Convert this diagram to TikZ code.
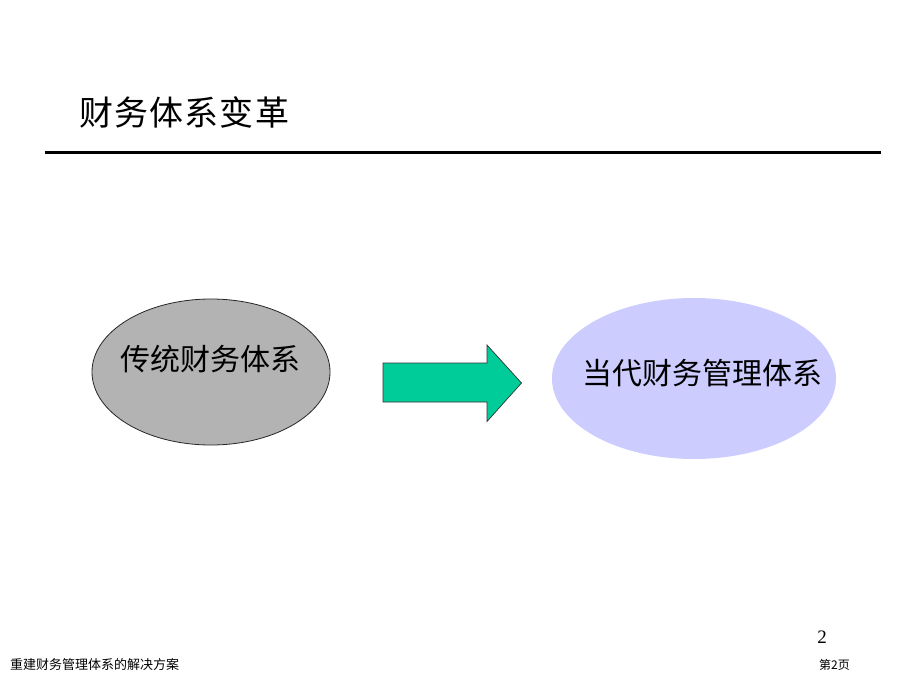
\documentclass[tikz,border=0pt]{standalone}
\usepackage{fontspec}
\newfontfamily\cjk{Noto Sans CJK SC}
\newfontfamily\serifnum{Liberation Serif}
\usetikzlibrary{shapes.geometric}
\definecolor{grayfill}{HTML}{B3B3B3}
\definecolor{lavender}{HTML}{CCCCFF}
\definecolor{arrowgreen}{HTML}{00CC99}
\tikzset{
  ovaltext/.style={font=\cjk\fontsize{30}{32}\selectfont, text=black},
}
\newcommand{\tsp}{\hspace{1.2pt}}
\begin{document}
\begin{tikzpicture}[x=1pt,y=-1pt]
\useasboundingbox (0,0) rectangle (920,690);
\fill[white] (0,0) rectangle (920,690);
% title
\node[font=\cjk\fontsize{34}{36}\selectfont, anchor=west, inner sep=0pt] (title) at (79,112) {财\tsp 务\tsp 体\tsp 系\tsp 变\tsp 革};
\coordinate (ruleL) at (45,152);
\coordinate (ruleR) at (881,152);
\draw[line width=3pt] (ruleL) -- (ruleR);
% left ellipse
\node[ellipse, draw=black!85, line width=0.8pt, fill=grayfill, minimum width=238pt, minimum height=146pt, inner sep=0pt] (old) at (211,372) {};
\node[ovaltext] (oldtxt) at (210,359) {传统财务体系};
% right ellipse
\node[ellipse, fill=lavender, minimum width=284pt, minimum height=161pt, inner sep=0pt] (new) at (694,378.5) {};
\node[ovaltext] (newtxt) at (702,373) {当代财务管理体系};
% block arrow
\coordinate (a1) at (383,363);
\coordinate (a2) at (487,363);
\coordinate (a3) at (487,345);
\coordinate (a4) at (521.5,383);
\coordinate (a5) at (487,421.5);
\coordinate (a6) at (487,402);
\coordinate (a7) at (383,402);
\draw[fill=arrowgreen, draw=black!80, line width=0.7pt, line join=miter] (a1) -- (a2) -- (a3) -- (a4) -- (a5) -- (a6) -- (a7) -- cycle;
% page number
\node[font=\serifnum\fontsize{19}{20}\selectfont, inner sep=0pt] (pnum) at (822,637) {2};
% footer
\node[font=\cjk\fontsize{13}{14}\selectfont, anchor=west, inner sep=0pt] (foot) at (10,665) {重建财务管理体系的解决方案};
\node[font=\cjk\fontsize{12}{13}\selectfont, anchor=west, inner sep=0pt] (pg) at (819,665) {第2页};
\end{tikzpicture}
\end{document}
